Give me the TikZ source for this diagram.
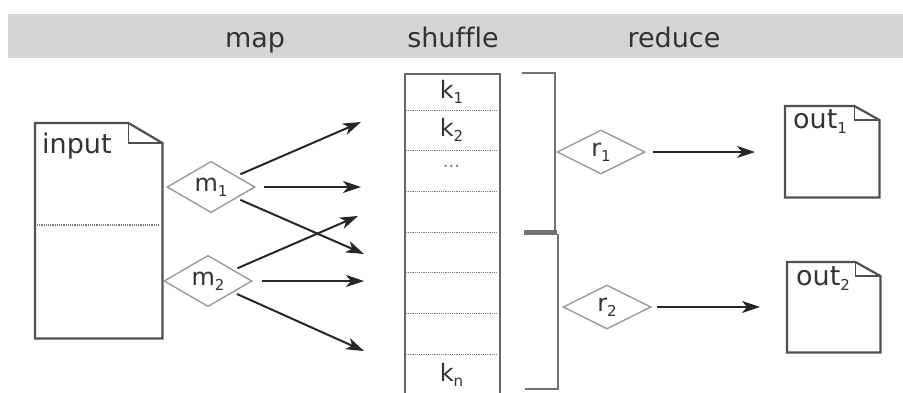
\documentclass[tikz,border=0pt]{standalone}
\usepackage{fontspec}
\setmainfont{DejaVu Sans}[Ligatures=NoCommon]
\usetikzlibrary{shapes.geometric,arrows.meta}
\definecolor{bandc}{HTML}{D5D5D5}
\definecolor{txtc}{HTML}{333333}
\definecolor{arrc}{HTML}{262626}
\definecolor{dmc}{HTML}{9A9A9A}
\definecolor{docc}{HTML}{505050}
\definecolor{shufc}{HTML}{666666}
\definecolor{sepc}{HTML}{7A7A7A}
\definecolor{brkc}{HTML}{727272}
\newcommand\lsub[1]{\raisebox{-5pt}{\fontsize{15}{15}\selectfont #1}}
\newcommand\docframe[3]{%
  \draw[docline] (#1.north west) -- ([xshift=-#2pt]#1.north east) -- ([yshift=-#3pt]#1.north east) -- (#1.south east) -- (#1.south west) -- cycle;
  \draw[docline, line width=1.5pt] ([xshift=-#2pt]#1.north east) -- ([xshift=-#2pt,yshift=-#3pt]#1.north east) -- ([yshift=-#3pt]#1.north east);
}
\tikzset{
  hdrtxt/.style={font=\fontsize{27}{30}\selectfont, text=txtc, inner sep=0pt, anchor=base},
  doclabel/.style={font=\fontsize{27}{30}\selectfont, text=txtc, inner sep=0pt, anchor=base west},
  decision/.style={diamond, draw=dmc, line width=1.4pt, minimum width=88pt, minimum height=44pt,
    inner sep=0pt, font=\fontsize{24}{26}\selectfont, text=txtc},
  flow/.style={draw=arrc, line width=2pt, -{Stealth[length=18pt,width=12pt,inset=5pt]}},
  docbox/.style={draw=none, inner sep=0pt, anchor=north west},
  docline/.style={draw=docc, line width=2.2pt, line join=miter},
  cellbox/.style={draw=none, inner sep=0pt, minimum width=95pt, font=\fontsize{24}{26}\selectfont, text=txtc},
  sepline/.style={draw=sepc, dash pattern=on 1.2pt off 1pt, line width=1.4pt},
  brk/.style={draw=brkc, line width=2pt},
}
\begin{document}
\begin{tikzpicture}[x=1pt,y=-1pt]
\useasboundingbox (0,0) rectangle (903,392);
% header band
\node[fill=bandc, draw=none, inner sep=0pt, minimum width=895pt, minimum height=44pt, anchor=north west] (hdr) at (8,14) {};
\node[hdrtxt] (hmap) at (255,47) {map};
\node[hdrtxt] (hshuf) at (453,47) {shuffle};
\node[hdrtxt] (hred) at (674,47) {reduce};
% input document
\node[docbox, minimum width=127pt, minimum height=215pt] (input) at (35,123) {};
\docframe{input}{34}{20}
\draw[sepline] (37,225) -- (160,225);
\node[doclabel] (linput) at (42,153) {input};
% output documents
\node[docbox, minimum width=94pt, minimum height=91pt] (out1) at (785,106) {};
\docframe{out1}{25}{14}
\node[doclabel] (lout1) at (793,128) {out\lsub{1}};
\node[docbox, minimum width=93pt, minimum height=90pt] (out2) at (787,262) {};
\docframe{out2}{25}{14}
\node[doclabel] (lout2) at (796,285) {out\lsub{2}};
% map diamonds
\node[decision] (m1) at (211,187) {m\lsub{1}};
\node[decision] (m2) at (208,281) {m\lsub{2}};
% shuffle column
\node[draw=shufc, line width=2.4pt, inner sep=0pt, minimum width=95pt, minimum height=322pt, anchor=north west] (shuf) at (404,73) {};
\foreach \i/\a/\b/\t in {1/73/110/{k\lsub{1}}, 2/110/150/{k\lsub{2}}, 3/150/191/{}, 4/191/232/{}, 5/232/272/{}, 6/272/313/{}, 7/313/354/{}, 8/354/395/{k\lsub{n}}}{
  \node[cellbox, minimum height={(\b-\a)*1pt}] (c\i) at (451.5,{(\a+\b)/2}) {\t};
}
\foreach \i in {1,...,7}{
  \draw[sepline] ([xshift=2pt]c\i.south west) -- ([xshift=-2pt]c\i.south east);
}
\node[text=sepc, font=\fontsize{18}{18}\selectfont, inner sep=0pt] (dots) at ([yshift=4pt]c3.center) {...};
% targets of map arrows
\coordinate (t1) at (361,122);
\coordinate (t2) at (361,187);
\coordinate (t3) at (364,254);
\coordinate (t4) at (358,216);
\coordinate (t5) at (364,281);
\coordinate (t6) at (364,351);
\draw[flow, shorten <=4pt] (m1) -- (t1);
\draw[flow, shorten <=8pt] (m1.east) -- (t2);
\draw[flow, shorten <=4pt] (m1) -- (t3);
\draw[flow, shorten <=4pt] (m2) -- (t4);
\draw[flow, shorten <=9pt] (m2.east) -- (t5);
\draw[flow, shorten <=4pt] (m2) -- (t6);
% brackets
\coordinate (b1top) at (522,73);
\coordinate (bjoin) at (524,232);
\coordinate (b2bot) at (525,389);
\draw[brk] (b1top) -- (555,73) -- (555,230);
\draw[brk] (558,234) -- (558,389) -- (b2bot);
\draw[draw=brkc, line width=5pt] (bjoin) -- (557,232);
% reduce diamonds
\node[decision] (r1) at (601,152) {r\lsub{1}};
\node[decision] (r2) at (607,307) {r\lsub{2}};
\draw[flow, shorten <=7pt, shorten >=30pt] (r1.east) -- (r1.east -| out1.west);
\draw[flow, shorten <=5pt, shorten >=27pt] (r2.east) -- (r2.east -| out2.west);
\end{tikzpicture}
\end{document}
